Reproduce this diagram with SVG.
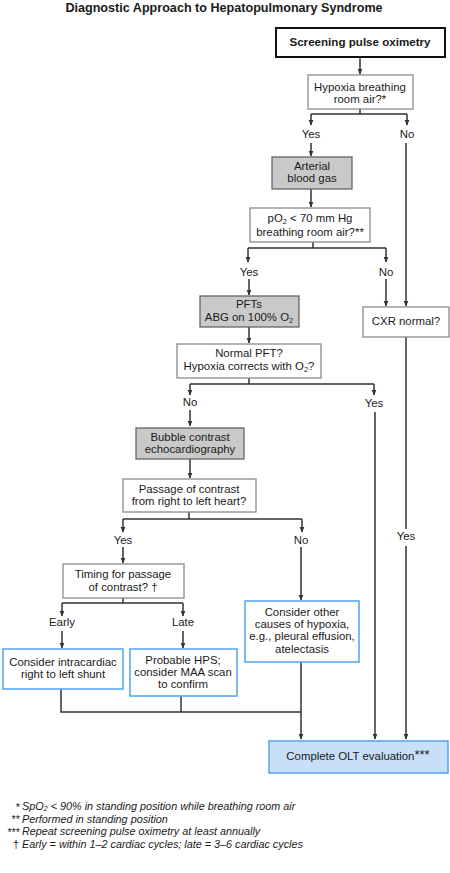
<svg xmlns="http://www.w3.org/2000/svg" width="450" height="873" viewBox="0 0 450 873">
<style>
text{font-family:"Liberation Sans",Arial,sans-serif;font-size:11.4px;fill:#1a1a1a;text-anchor:middle}
.title{font-size:12.6px;font-weight:bold}
.bold{font-weight:bold;font-size:11.6px}
.plain{fill:#fff;stroke:#8a8a8a;stroke-width:1.3}
.gray{fill:#c9c9c9;stroke:#666;stroke-width:1.3}
.blue{fill:#fff;stroke:#5aa8f2;stroke-width:1.6}
.olt{fill:#c7e0f8;stroke:#5aa8f2;stroke-width:1.6}
.strong{fill:#fff;stroke:#111;stroke-width:2}
.ln{fill:none;stroke:#333;stroke-width:1.5}
.arr{fill:none;stroke:#333;stroke-width:1.5;marker-end:url(#ah)}
.fn{font-style:italic;font-size:10.8px;text-anchor:start}
.st{font-size:10.8px;text-anchor:end}
.sub{font-size:7.5px}
</style>
<defs>
<marker id="ah" markerUnits="userSpaceOnUse" markerWidth="6" markerHeight="6" refX="5.5" refY="3" orient="auto">
<path d="M0,0.4 L6,3 L0,5.6 z" fill="#333"/>
</marker>
</defs>

<text class="title" x="224" y="12">Diagnostic Approach to Hepatopulmonary Syndrome</text>

<g id="connectors">
<path class="arr" d="M360,57 V74"/>
<path class="ln" d="M360,109 V114 M311,114 H407"/>
<path class="arr" d="M311,114 V125"/>
<path class="arr" d="M407,114 V125"/>
<path class="arr" d="M311,143 V156"/>
<path class="arr" d="M406,143 V306"/>
<path class="arr" d="M311,189 V207"/>
<path class="ln" d="M313,242 V248 M248,248 H386"/>
<path class="arr" d="M248,248 V262"/>
<path class="arr" d="M386,248 V262"/>
<path class="arr" d="M249,279 V295"/>
<path class="arr" d="M386,279 V306"/>
<path class="arr" d="M249,327 V343"/>
<path class="ln" d="M249,378 V384 M190,384 H374"/>
<path class="arr" d="M190,384 V395"/>
<path class="arr" d="M374,384 V395"/>
<path class="arr" d="M190,410 V426"/>
<path class="arr" d="M375,412 V739"/>
<path class="ln" d="M406,337 V529"/>
<path class="arr" d="M406,546 V739"/>
<path class="arr" d="M190,459 V478"/>
<path class="ln" d="M189,512 V519 M123,519 H302"/>
<path class="arr" d="M123,519 V532"/>
<path class="arr" d="M302,519 V532"/>
<path class="arr" d="M123,547 V563"/>
<path class="arr" d="M301,547 V600"/>
<path class="ln" d="M123,598 V603 M62,603 H183"/>
<path class="arr" d="M62,603 V616"/>
<path class="arr" d="M183,603 V616"/>
<path class="arr" d="M62,631 V648"/>
<path class="arr" d="M183,631 V648"/>
<path class="ln" d="M61,689 V712 H301 M181,696 V712"/>
<path class="arr" d="M301,662 V739"/>
</g>

<g id="labels">
<text x="311" y="138">Yes</text>
<text x="407" y="138">No</text>
<text x="249" y="276">Yes</text>
<text x="386" y="276">No</text>
<text x="190" y="406">No</text>
<text x="374" y="407">Yes</text>
<text x="406" y="540">Yes</text>
<text x="123" y="544">Yes</text>
<text x="301" y="544">No</text>
<text x="62" y="626">Early</text>
<text x="183" y="626">Late</text>
</g>

<g id="screening">
<rect class="strong" x="276" y="28" width="169" height="29"/>
<text class="bold" x="360" y="46">Screening pulse oximetry</text>
</g>

<g id="hypoxia">
<rect class="plain" x="308" y="75" width="105" height="34"/>
<text x="360" y="91">Hypoxia breathing</text>
<text x="360" y="103">room air?*</text>
</g>

<g id="abg">
<rect class="gray" x="272" y="157" width="80" height="32"/>
<text x="312" y="170">Arterial</text>
<text x="312" y="182">blood gas</text>
</g>

<g id="po2">
<rect class="plain" x="250" y="208" width="120" height="34"/>
<text x="310" y="222">pO<tspan class="sub" dy="2">2</tspan><tspan dy="-2"> &lt; 70 mm Hg</tspan></text>
<text x="310" y="236">breathing room air?**</text>
</g>

<g id="pfts">
<rect class="gray" x="200" y="296" width="99" height="31"/>
<text x="249" y="308">PFTs</text>
<text x="249" y="321">ABG on 100% O<tspan class="sub" dy="2">2</tspan></text>
</g>

<g id="cxr">
<rect class="plain" x="363" y="307" width="86" height="30"/>
<text x="406" y="325">CXR normal?</text>
</g>

<g id="normalpft">
<rect class="plain" x="177" y="344" width="144" height="34"/>
<text x="249" y="357">Normal PFT?</text>
<text x="249" y="370">Hypoxia corrects with O<tspan class="sub" dy="2">2</tspan><tspan dy="-2">?</tspan></text>
</g>

<g id="bubble">
<rect class="gray" x="136" y="428" width="108" height="31"/>
<text x="190" y="441">Bubble contrast</text>
<text x="190" y="453">echocardiography</text>
</g>

<g id="passage">
<rect class="plain" x="123" y="479" width="133" height="33"/>
<text x="189" y="493">Passage of contrast</text>
<text x="189" y="505">from right to left heart?</text>
</g>

<g id="timing">
<rect class="plain" x="63" y="564" width="121" height="34"/>
<text x="123" y="578">Timing for passage</text>
<text x="123" y="591">of contrast? †</text>
</g>

<g id="other">
<rect class="blue" x="245" y="601" width="114" height="61"/>
<text x="302" y="616">Consider other</text>
<text x="302" y="628">causes of hypoxia,</text>
<text x="302" y="640">e.g., pleural effusion,</text>
<text x="302" y="653">atelectasis</text>
</g>

<g id="intracardiac">
<rect class="blue" x="3" y="649" width="120" height="40"/>
<text x="63" y="666">Consider intracardiac</text>
<text x="63" y="678">right to left shunt</text>
</g>

<g id="hps">
<rect class="blue" x="130" y="649" width="107" height="47"/>
<text x="183" y="664">Probable HPS;</text>
<text x="183" y="676">consider MAA scan</text>
<text x="183" y="688">to confirm</text>
</g>

<g id="olt">
<rect class="olt" x="269" y="741" width="179" height="32"/>
<text x="358" y="760">Complete OLT evaluation<tspan dy="-1" font-size="13">***</tspan></text>
</g>

<g id="footnotes">
<text class="st" x="20" y="811">*</text>
<text class="fn" x="22" y="809.5">SpO<tspan class="sub" dy="1.5">2</tspan><tspan dy="-1.5"> &lt; 90% in standing position while breathing room air</tspan></text>
<text class="st" x="20" y="823">**</text>
<text class="fn" x="22" y="822.5">Performed in standing position</text>
<text class="st" x="20" y="836">***</text>
<text class="fn" x="22" y="835">Repeat screening pulse oximetry at least annually</text>
<text class="st" x="19" y="847.5">†</text>
<text class="fn" x="22" y="847.5">Early = within 1–2 cardiac cycles; late = 3–6 cardiac cycles</text>
</g>
</svg>
